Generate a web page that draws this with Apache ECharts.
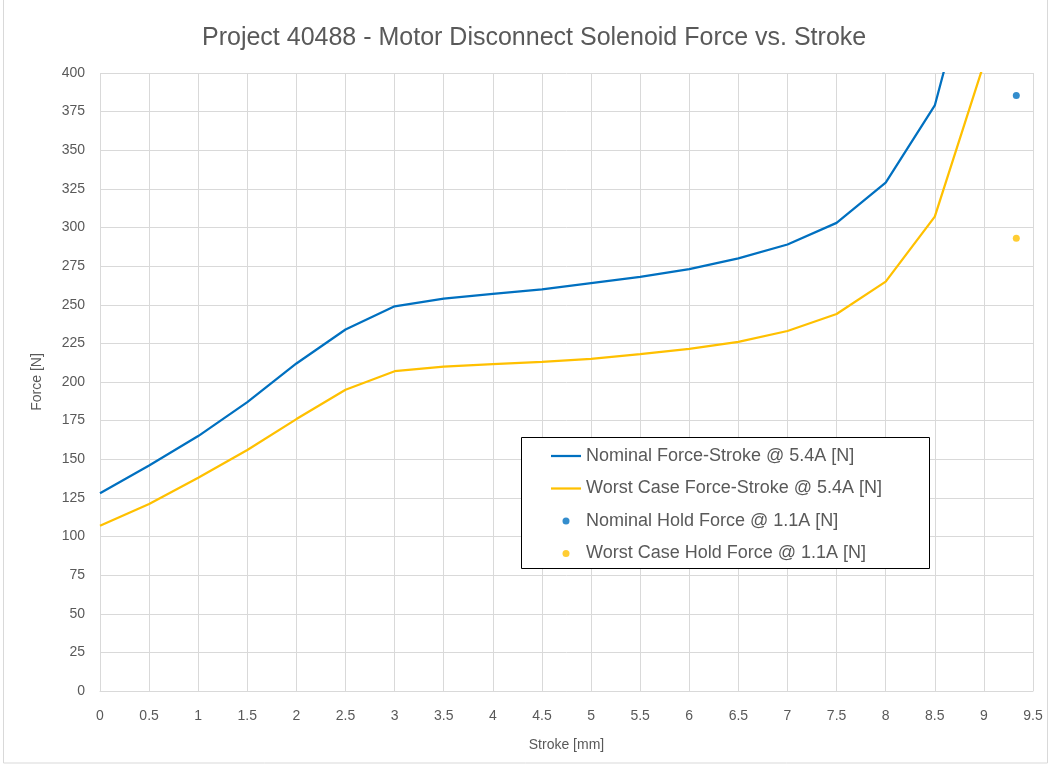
<!DOCTYPE html>
<html>
<head>
<meta charset="utf-8">
<script src="https://cdn.jsdelivr.net/npm/echarts@6/dist/echarts.min.js"></script>
<style>
  html, body { margin: 0; padding: 0; background: #fff; }
  #chart { width: 1051px; height: 767px; }
</style>
</head>
<body>
<div id="chart"></div>
<script>
// stroke positions [mm]
var strokeMm = [0, 0.5, 1, 1.5, 2, 2.5, 3, 3.5, 4, 4.5, 5, 5.5, 6, 6.5, 7, 7.5, 8, 8.5, 9];
// force values [N]
var nominalForce = [128, 146, 165, 187, 212, 234, 249, 254, 257, 260, 264, 268, 273, 280, 289, 303, 329, 379, 498];
var worstForce = [107, 121, 138, 156, 176, 195, 207, 210, 211.5, 213, 215, 218, 221.5, 226, 233, 244, 265, 307, 406];
// hold force points
var holdStroke = 9.33;
var nominalHold = 385.5;
var worstHold = 293;

var seriesNames = [
  "Nominal Force-Stroke @ 5.4A [N]",
  "Worst Case Force-Stroke @ 5.4A [N]",
  "Nominal Hold Force @ 1.1A [N]",
  "Worst Case Hold Force @ 1.1A [N]"
];

function pairs(xs, ys) {
  var out = [];
  for (var i = 0; i < xs.length; i++) out.push([xs[i], ys[i]]);
  return out;
}

var myChart = echarts.init(document.getElementById("chart"));
var font = "'Liberation Sans', sans-serif";
var grey = "#595959";
var lineIcon = "path://M0,0H30V2.25H0Z"; // thin bar for the line entries

var option = {
  backgroundColor: "#fff",
  animation: false,
  textStyle: { fontFamily: font },
  title: {
    text: "Project 40488 - Motor Disconnect Solenoid Force vs. Stroke",
    left: 197,
    top: 21,
    textStyle: { fontFamily: font, fontSize: 25, fontWeight: "normal", color: grey }
  },
  grid: { left: 100, right: 18, top: 73, bottom: 76 },
  legend: {
    orient: "vertical",
    left: 521,
    top: 439,
    padding: [7, 27, 7, 30],
    itemWidth: 30,
    itemHeight: 7,
    itemGap: 12.5,
    textStyle: { fontFamily: font, fontSize: 18, color: grey, lineHeight: 20 },
    data: [
      { name: seriesNames[0], icon: lineIcon },
      { name: seriesNames[1], icon: lineIcon },
      { name: seriesNames[2], icon: "circle" },
      { name: seriesNames[3], icon: "circle" }
    ]
  },
  xAxis: {
    type: "value",
    min: 0,
    max: 9.5,
    interval: 0.5,
    name: "Stroke [mm]",
    nameLocation: "middle",
    nameGap: 47,
    nameTextStyle: { fontFamily: font, fontSize: 14, color: grey },
    axisLine: { show: true, lineStyle: { color: "#d9d9d9" } },
    axisTick: { show: false },
    axisLabel: { color: grey, fontSize: 14, margin: 18, fontFamily: font },
    splitLine: { show: true, lineStyle: { color: "#d9d9d9", width: 1 } }
  },
  yAxis: {
    type: "value",
    min: 0,
    max: 400,
    interval: 25,
    name: "Force [N]",
    nameLocation: "middle",
    nameGap: 56,
    nameTextStyle: { fontFamily: font, fontSize: 14, color: grey },
    axisLine: { show: false },
    axisTick: { show: false },
    axisLabel: { color: grey, fontSize: 14, margin: 15, fontFamily: font },
    splitLine: { show: true, lineStyle: { color: "#d9d9d9", width: 1 } }
  },
  series: [
    {
      name: seriesNames[0],
      type: "line",
      symbol: "none",
      clip: true,
      color: "#0070C0",
      lineStyle: { width: 2.25, color: "#0070C0" },
      data: pairs(strokeMm, nominalForce)
    },
    {
      name: seriesNames[1],
      type: "line",
      symbol: "none",
      clip: true,
      color: "#FFC000",
      lineStyle: { width: 2.25, color: "#FFC000" },
      data: pairs(strokeMm, worstForce)
    },
    {
      name: seriesNames[2],
      type: "scatter",
      symbol: "circle",
      symbolSize: 7,
      color: "#0070C0",
      data: [[holdStroke, nominalHold]]
    },
    {
      name: seriesNames[3],
      type: "scatter",
      symbol: "circle",
      symbolSize: 7,
      color: "#FFC000",
      data: [[holdStroke, worstHold]]
    }
  ],
  graphic: [
    {
      type: "rect",
      shape: { x: 3.5, y: -1, width: 1044, height: 764 },
      style: { fill: "none", stroke: "#d9d9d9", lineWidth: 1 },
      silent: true,
      z: -1
    },
    {
      // legend frame
      type: "rect",
      shape: { x: 521.5, y: 437.5, width: 408, height: 131 },
      style: { fill: "#fff", stroke: "#000", lineWidth: 1 },
      silent: true,
      z: 3
    }
  ]
};

option && myChart.setOption(option);
</script>
</body>
</html>
